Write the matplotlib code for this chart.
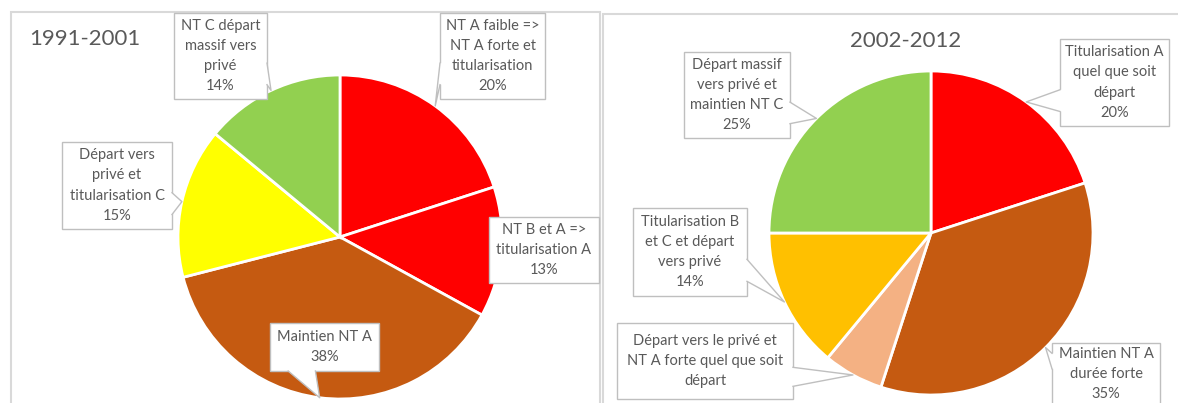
import numpy as np
import matplotlib
matplotlib.use("Agg")
import matplotlib.pyplot as plt
from matplotlib.patches import Rectangle, Polygon

plt.rcParams["font.family"] = ["Lato", "DejaVu Sans"]

W, H = 1178, 403
TEXT_GREY = "#595959"
BOX_GREY = "#BFBFBF"
FRAME_GREY = "#D9D9D9"

# 1991-2001
title_1991 = "1991-2001"
labels_1991 = ["NT A faible =>\nNT A forte et\ntitularisation",
               "NT B et A =>\ntitularisation A",
               "Maintien NT A",
               "Départ vers\nprivé et\ntitularisation C",
               "NT C départ\nmassif vers\nprivé"]
values_1991 = [20, 13, 38, 15, 14]
show_pct_1991 = [True, True, True, True, True]
colors_1991 = ["#FF0000", "#FF0000", "#C55A11", "#FFFF00", "#92D050"]

# 2002-2012
title_2002 = "2002-2012"
labels_2002 = ["Titularisation A\nquel que soit\ndépart",
               "Maintien NT A\ndurée forte",
               "Départ vers le privé et\nNT A forte quel que soit\ndépart",
               "Titularisation B\net C et départ\nvers privé",
               "Départ massif\nvers privé et\nmaintien NT C"]
values_2002 = [20, 35, 6, 14, 25]
show_pct_2002 = [True, True, False, True, True]
colors_2002 = ["#FF0000", "#C55A11", "#F4B183", "#FFC000", "#92D050"]

# label boxes, pixels from the top-left corner: x0, y0, x1, y1, pointer side
boxes_1991 = [(440, 13, 545, 99, "left"),
              (489, 217, 599, 283, None),
              (270, 323, 379, 371, "bottom"),
              (62, 142, 172, 229, "right"),
              (174, 13, 267, 99, "right")]
boxes_2002 = [(1060, 39, 1169, 126, "left"),
              (1052, 343, 1160, 405, "left"),
              (617, 323, 793, 399, "right"),
              (633, 208, 747, 296, "right"),
              (684, 52, 790, 138, "right")]


def callout(ax, box, tip, text):
    x0, y0, x1, y1, side = box
    w, h = x1 - x0, y1 - y0
    ax.add_patch(Rectangle((x0, H - y1), w, h, facecolor="white",
                           edgecolor=BOX_GREY, linewidth=1.0, zorder=3))
    if side is not None:
        tx, ty = tip
        if side in ("left", "right"):
            ex = x0 if side == "left" else x1
            inner = 2 if side == "left" else -2
            f = (7, 10) if ty > y0 + h / 2 else (2, 5)
            b1 = (ex, y0 + h * f[0] / 12)
            b2 = (ex, y0 + h * f[1] / 12)
            b1i, b2i = (ex + inner, b1[1]), (ex + inner, b2[1])
        else:
            ey = y1 if side == "bottom" else y0
            inner = -2 if side == "bottom" else 2
            f = (7, 10) if tx > x0 + w / 2 else (2, 5)
            b1 = (x0 + w * f[0] / 12, ey)
            b2 = (x0 + w * f[1] / 12, ey)
            b1i, b2i = (b1[0], ey + inner), (b2[0], ey + inner)
        pts = [b1i, b1, tip, b2, b2i]
        ax.add_patch(Polygon([(px, H - py) for px, py in pts], closed=True,
                             facecolor="white", edgecolor="none", zorder=4))
        ax.plot([b1[0], tx, b2[0]], [H - b1[1], H - ty, H - b2[1]],
                color=BOX_GREY, linewidth=1.0, zorder=5)
    ax.text((x0 + x1) / 2, H - (y0 + y1) / 2, text, ha="center", va="center",
            multialignment="center", fontsize=10.5, color=TEXT_GREY,
            linespacing=1.55, zorder=6)


def draw_pie(ax, center, radius, values, colors, labels, show_pct, boxes):
    cx, cy = center
    wedges, _ = ax.pie(values, colors=colors, startangle=90, counterclock=False,
                       center=(cx, H - cy), radius=radius, frame=True,
                       wedgeprops=dict(edgecolor="white", linewidth=2))
    for wdg, lab, v, pct, box in zip(wedges, labels, values, show_pct, boxes):
        mid = np.deg2rad((wdg.theta1 + wdg.theta2) / 2)
        tip = (cx + radius * np.cos(mid), cy - radius * np.sin(mid))
        text = f"{lab}\n{v}%" if pct else lab
        callout(ax, box, tip, text)


fig = plt.figure(figsize=(W / 100, H / 100), dpi=100)
ax = fig.add_axes([0, 0, 1, 1])

# panel frames
ax.add_patch(Rectangle((11, -10), 589, H - 12 + 10, facecolor="none",
                       edgecolor=FRAME_GREY, linewidth=1.5, zorder=0))
ax.add_patch(Rectangle((603, -10), 600, H - 14 + 10, facecolor="none",
                       edgecolor=FRAME_GREY, linewidth=1.5, zorder=0))

draw_pie(ax, (340, 237), 162, values_1991, colors_1991, labels_1991,
         show_pct_1991, boxes_1991)
draw_pie(ax, (931, 233), 162, values_2002, colors_2002, labels_2002,
         show_pct_2002, boxes_2002)

ax.text(29, H - 39, title_1991, ha="left", va="center", fontsize=16,
        color=TEXT_GREY)
ax.text(906, H - 41, title_2002, ha="center", va="center", fontsize=16,
        color=TEXT_GREY)

ax.set_xlim(0, W)
ax.set_ylim(0, H)
ax.set_aspect("equal")
ax.axis("off")

fig.savefig("out.png", dpi=100)
